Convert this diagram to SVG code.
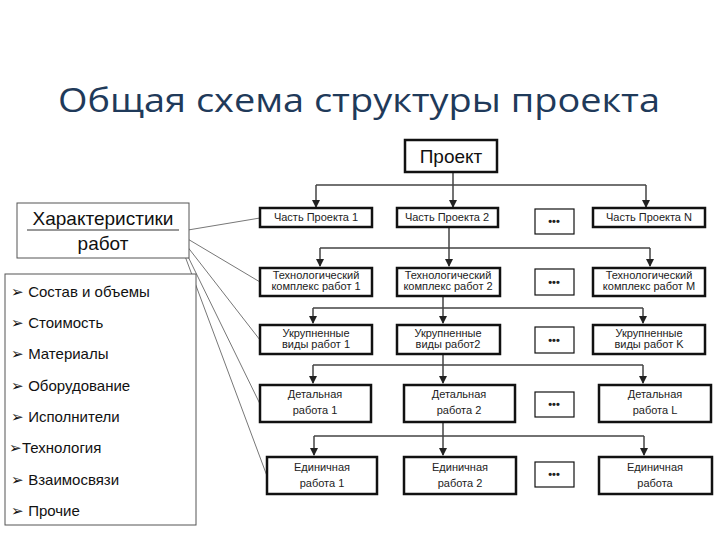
<svg xmlns="http://www.w3.org/2000/svg" width="720" height="540" viewBox="0 0 720 540">
<defs>
<marker id="ah" markerWidth="8" markerHeight="8" refX="7" refY="4" orient="auto" markerUnits="userSpaceOnUse"><path d="M0,0 L8,4 L0,8 z" fill="#222"/></marker>
<style>
.b{fill:#fff;stroke:#111;stroke-width:2.5}
.d{fill:#fff;stroke:#111;stroke-width:1.2}
.t{font-family:"Liberation Sans",Arial,sans-serif;font-size:11px;fill:#222;text-anchor:middle}
.dt{font-family:"Liberation Sans",Arial,sans-serif;font-size:11px;font-weight:bold;fill:#222;text-anchor:middle}
.c{stroke:#444;stroke-width:1.5;fill:none}
.a{stroke:#444;stroke-width:1.5;fill:none;marker-end:url(#ah)}
.g{stroke:#777;stroke-width:1;fill:none}
.li{font-family:"Liberation Sans",Arial,sans-serif;font-size:15px;fill:#111}
.big{font-family:"Liberation Sans",Arial,sans-serif;font-size:19px;fill:#111;text-anchor:middle}
</style>
</defs>
<rect width="720" height="540" fill="#fff"/>
<text x="58" y="112" font-family="'Open Sans','Liberation Sans',sans-serif" font-size="32" fill="#1f3a5a" textLength="602" lengthAdjust="spacingAndGlyphs">Общая схема структуры проекта</text>

<g id="connectors">
<path class="c" d="M453,172 V185 M316,185 H646"/>
<path class="a" d="M316,185 V207"/><path class="a" d="M453,185 V207"/><path class="a" d="M646,185 V207"/>
<path class="c" d="M449,227 V248 M320,248 H650"/>
<path class="a" d="M320,248 V266"/><path class="a" d="M449,248 V266"/><path class="a" d="M650,248 V266"/>
<path class="c" d="M443,296 V308 M313,308 H643"/>
<path class="a" d="M313,308 V323"/><path class="a" d="M443,308 V323"/><path class="a" d="M643,308 V323"/>
<path class="c" d="M443,354 V365 M313,365 H643"/>
<path class="a" d="M313,365 V383"/><path class="a" d="M443,365 V383"/><path class="a" d="M643,365 V383"/>
<path class="c" d="M443,422 V436 M314,436 H644"/>
<path class="a" d="M314,436 V455"/><path class="a" d="M443,436 V455"/><path class="a" d="M644,436 V455"/>
<path class="g" d="M176,232 L260,218 M176,232 L260,282 M176,232 L260,340 M176,232 L260,404 M176,232 L267,476"/>
</g>

<g id="project"><rect class="b" x="405" y="140" width="92" height="32"/><text class="big" x="451" y="163">Проект</text></g>

<g id="r1"><rect class="b" x="260" y="208" width="112" height="19"/><text class="t" x="316" y="221">Часть Проекта 1</text>
<rect class="b" x="397" y="208" width="101" height="19"/><text class="t" x="447" y="221">Часть Проекта 2</text>
<rect class="d" x="535" y="209" width="39" height="25"/><text class="dt" x="554" y="225">•••</text>
<rect class="b" x="593" y="208" width="112" height="19"/><text class="t" x="649" y="221">Часть Проекта N</text></g>

<g id="r2"><rect class="b" x="260" y="268" width="112" height="28"/><text class="t" x="316" y="279">Технологический</text><text class="t" x="316" y="290">комплекс работ 1</text>
<rect class="b" x="397" y="268" width="103" height="28"/><text class="t" x="448" y="279">Технологический</text><text class="t" x="448" y="290">комплекс работ 2</text>
<rect class="d" x="535" y="269" width="39" height="26"/><text class="dt" x="554" y="286">•••</text>
<rect class="b" x="593" y="268" width="112" height="28"/><text class="t" x="649" y="279">Технологический</text><text class="t" x="649" y="290">комплекс работ M</text></g>

<g id="r3"><rect class="b" x="260" y="325" width="112" height="29"/><text class="t" x="316" y="337">Укрупненные</text><text class="t" x="316" y="348">виды работ 1</text>
<rect class="b" x="397" y="325" width="103" height="29"/><text class="t" x="448" y="337">Укрупненные</text><text class="t" x="448" y="348">виды работ2</text>
<rect class="d" x="535" y="327" width="39" height="26"/><text class="dt" x="554" y="344">•••</text>
<rect class="b" x="593" y="325" width="112" height="29"/><text class="t" x="649" y="337">Укрупненные</text><text class="t" x="649" y="348">виды работ K</text></g>

<g id="r4"><rect class="b" x="260" y="385" width="111" height="37"/><text class="t" x="315" y="398">Детальная</text><text class="t" x="315" y="414">работа 1</text>
<rect class="b" x="404" y="385" width="111" height="37"/><text class="t" x="459" y="398">Детальная</text><text class="t" x="459" y="414">работа 2</text>
<rect class="d" x="535" y="392" width="39" height="25"/><text class="dt" x="554" y="408">•••</text>
<rect class="b" x="599" y="385" width="112" height="37"/><text class="t" x="655" y="398">Детальная</text><text class="t" x="655" y="414">работа L</text></g>

<g id="r5"><rect class="b" x="267" y="457" width="110" height="37"/><text class="t" x="322" y="471">Единичная</text><text class="t" x="322" y="487">работа 1</text>
<rect class="b" x="404" y="457" width="112" height="37"/><text class="t" x="460" y="471">Единичная</text><text class="t" x="460" y="487">работа 2</text>
<rect class="d" x="535" y="462" width="39" height="25"/><text class="dt" x="554" y="478">•••</text>
<rect class="b" x="599" y="457" width="113" height="37"/><text class="t" x="655" y="471">Единичная</text><text class="t" x="655" y="487">работа</text></g>

<g id="characteristics"><rect x="17" y="203" width="172" height="55" fill="#fff" stroke="#555" stroke-width="1"/>
<text class="big" x="103" y="225">Характеристики</text>
<line x1="27" y1="230" x2="179" y2="230" stroke="#333" stroke-width="1"/>
<text class="big" x="103" y="250">работ</text></g>

<g id="list"><rect x="5" y="274" width="191" height="251" fill="#fff" stroke="#555" stroke-width="1"/>
<text class="li" x="11" y="297">➢ Состав и объемы</text>
<text class="li" x="11" y="328">➢ Стоимость</text>
<text class="li" x="11" y="359">➢ Материалы</text>
<text class="li" x="11" y="391">➢ Оборудование</text>
<text class="li" x="11" y="422">➢ Исполнители</text>
<text class="li" x="9" y="453">➢Технология</text>
<text class="li" x="11" y="485">➢ Взаимосвязи</text>
<text class="li" x="11" y="516">➢ Прочие</text></g>
</svg>
